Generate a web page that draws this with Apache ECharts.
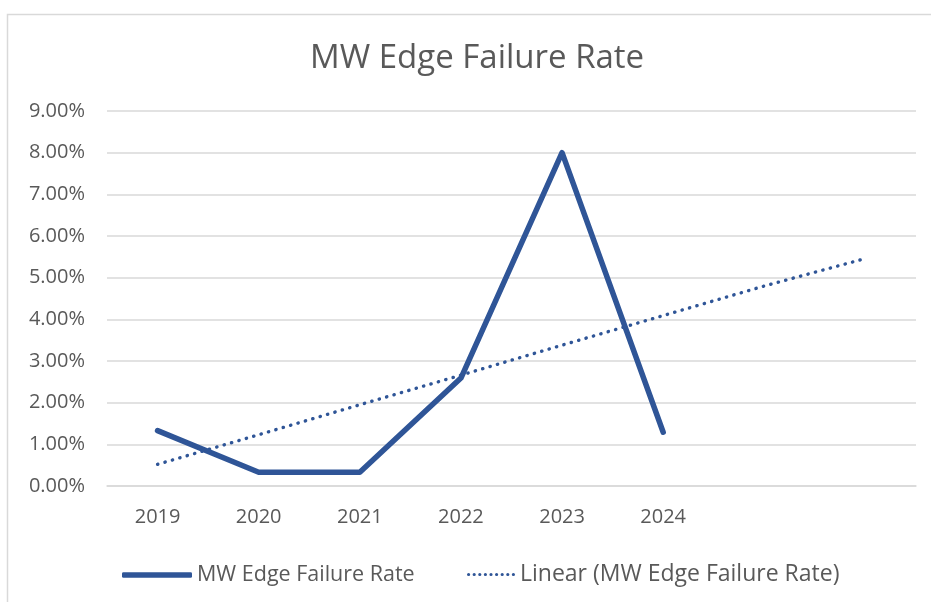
<!DOCTYPE html>
<html>
<head>
<meta charset="utf-8">
<script src="https://cdn.jsdelivr.net/npm/echarts@6/dist/echarts.min.js"></script>
<style>
html,body{margin:0;padding:0;background:#fff;}
#chart{width:931px;height:602px;}
</style>
</head>
<body>
<div id="chart"></div>
<script>
var categories = ['2019', '2020', '2021', '2022', '2023', '2024', '', ''];
var failureRate = [1.33, 0.33, 0.33, 2.59, 8.0, 1.29, null, null];
var trendLinear = [0.52, 1.23, 1.95, 2.66, 3.38, 4.09, 4.80, 5.46];
var yTicks = [0, 1, 2, 3, 4, 5, 6, 7, 8, 9];
var seriesName = 'MW Edge Failure Rate';
var trendName = 'Linear (MW Edge Failure Rate)';

var FONT = '"Open Sans", "Liberation Sans", sans-serif';
var TXT = '#595959';
var BLUE = '#2F5597';

// legend icon paths (shape only)
function dotsPath(n, step, r) {
  var p = '';
  for (var i = 0; i < n; i++) {
    var cx = r + i * step;
    p += 'M' + (cx - r) + ',' + r + 'a' + r + ',' + r + ' 0 1,0 ' + (2 * r) + ',0a' + r + ',' + r + ' 0 1,0 ' + (-2 * r) + ',0z';
  }
  return 'path://' + p;
}

var chart = echarts.init(document.getElementById('chart'), null, {renderer: 'canvas'});
chart.setOption({
  animation: false,
  backgroundColor: '#ffffff',
  graphic: [{
    type: 'rect', left: 5, top: 12, silent: true,
    shape: {width: 1000, height: 1000},
    style: {fill: 'none', stroke: '#D9D9D9', lineWidth: 1.5}
  }],
  title: {
    text: 'MW Edge Failure Rate',
    left: 305, top: 37,
    textStyle: {fontFamily: FONT, fontSize: 33, fontWeight: 'normal', color: TXT}
  },
  legend: [{
    data: [{name: seriesName, icon: 'roundRect'}], left: 117, top: 559,
    itemWidth: 70, itemHeight: 5.5,
    itemStyle: {color: BLUE, borderWidth: 0},
    textStyle: {fontFamily: FONT, fontSize: 21.5, color: TXT}
  }, {
    data: [{name: trendName, icon: dotsPath(9, 5.6, 1.6)}], left: 462, top: 558,
    itemWidth: 48, itemHeight: 3.2,
    itemStyle: {color: BLUE, borderWidth: 0},
    textStyle: {fontFamily: FONT, fontSize: 23, color: TXT}
  }],
  grid: {left: 107, right: 15, top: 111, bottom: 116, containLabel: false},
  xAxis: {
    type: 'category', data: categories, boundaryGap: true,
    axisLine: {show: true, lineStyle: {color: '#D9D9D9', width: 1.5}},
    axisTick: {show: false},
    axisLabel: {fontFamily: FONT, fontSize: 20, color: TXT, margin: 21}
  },
  yAxis: {
    type: 'value', min: yTicks[0], max: yTicks[yTicks.length - 1], interval: 1,
    axisLine: {show: false}, axisTick: {show: false},
    splitLine: {lineStyle: {color: '#D9D9D9', width: 1.5}},
    axisLabel: {fontFamily: FONT, fontSize: 20, color: TXT, margin: 22,
      formatter: function (v) { return v.toFixed(2) + '%'; }}
  },
  series: [{
    name: seriesName, type: 'line', data: failureRate,
    symbol: 'none', showSymbol: false, connectNulls: false,
    lineStyle: {color: BLUE, width: 5.5, cap: 'round', join: 'round'},
    itemStyle: {color: BLUE}, z: 3
  }, {
    name: trendName, type: 'line', data: trendLinear,
    symbol: 'none', showSymbol: false,
    lineStyle: {color: BLUE, width: 3.4, type: [0.3, 7.4], cap: 'round'},
    itemStyle: {color: BLUE}, z: 2
  }]
});
</script>
</body>
</html>
